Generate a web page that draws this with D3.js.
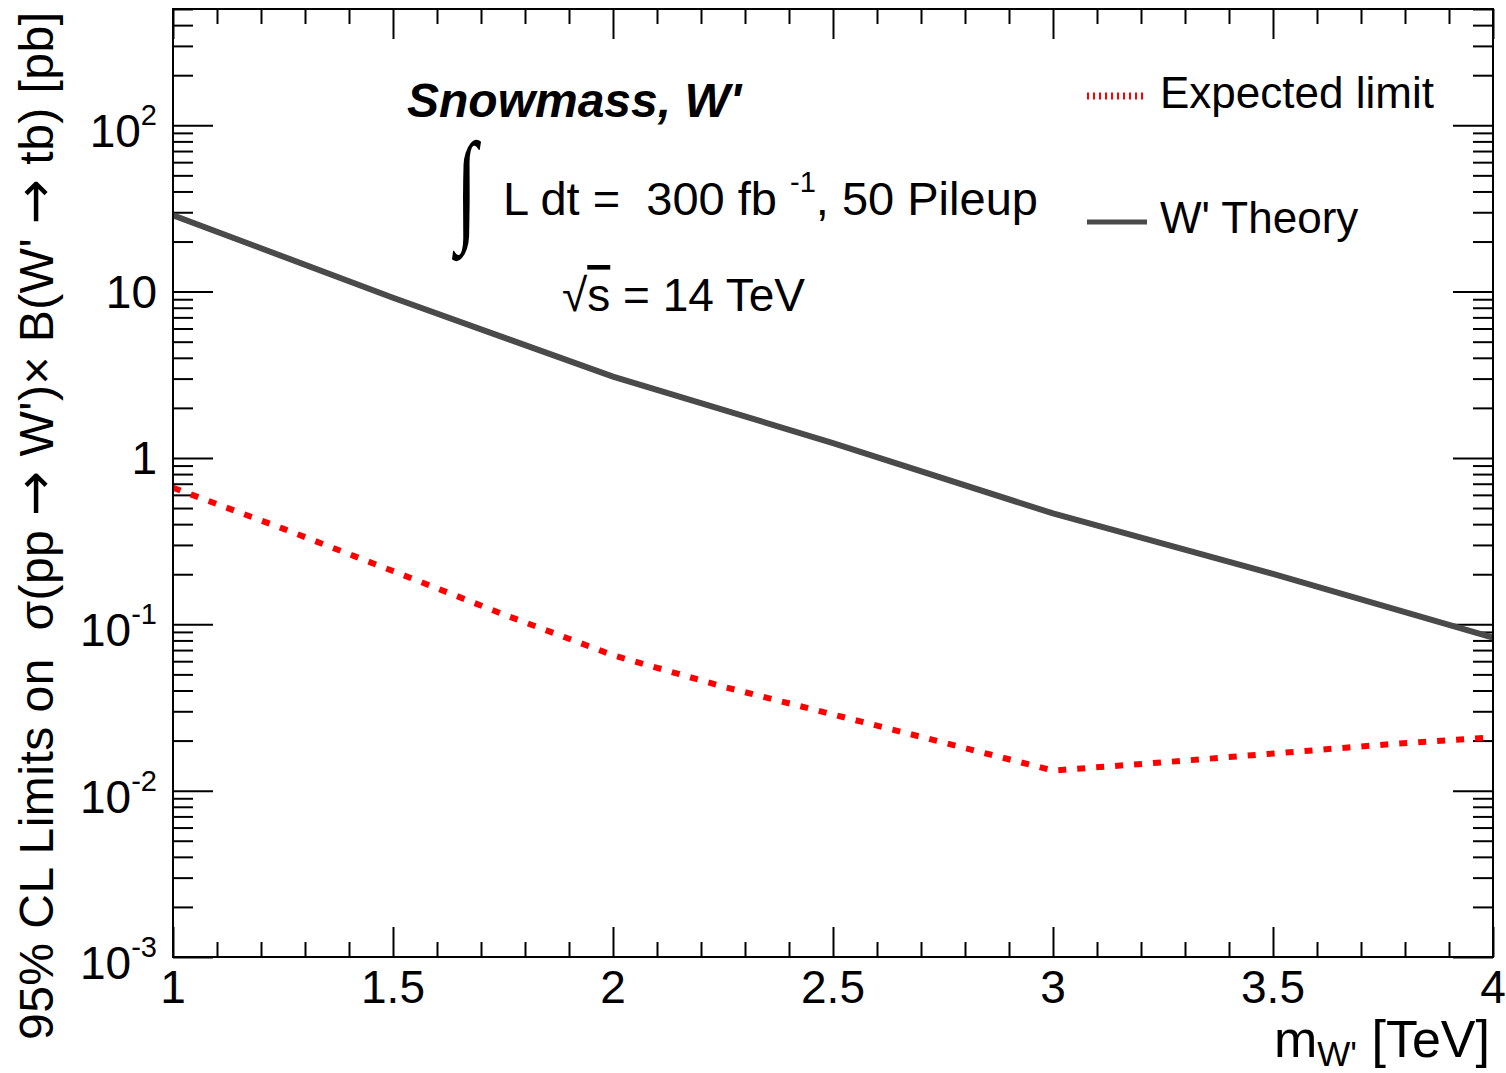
<!DOCTYPE html>
<html>
<head>
<meta charset="utf-8">
<script src="https://cdn.jsdelivr.net/npm/d3@7"></script>
<style>
  body { margin: 0; background: #fff; }
  text { font-family: "Liberation Sans", Arial, Helvetica, sans-serif; fill: #000; white-space: pre; }
</style>
</head>
<body>
<svg id="chart" width="1506" height="1073"></svg>
<script>
'use strict';

// W' mass points [TeV] and theory cross section x BR [pb]
var theoryMass = [1.0, 1.5, 2.0, 2.5, 3.0, 3.5, 4.0];
var theoryXsec = [28.8, 9.18, 3.08, 1.23, 0.464, 0.201, 0.0832];

// expected 95% CL limit [pb]
var expMass = [1.0, 1.25, 1.5, 1.75, 2.0, 2.25, 2.5, 2.75, 3.0, 3.25, 3.5, 3.75, 4.0];
var expLimit = [0.662, 0.376, 0.209, 0.115, 0.0652, 0.0422, 0.0287, 0.0195, 0.0132, 0.0148, 0.0167, 0.0189, 0.0209];

// axis ticks
var xMajor = [1, 1.5, 2, 2.5, 3, 3.5, 4];
var yMajor = [1e-3, 1e-2, 1e-1, 1, 10, 100];
var yLabels = [['10', '-3'], ['10', '-2'], ['10', '-1'], ['1', ''], ['10', ''], ['10', '2']];

var svg = d3.select('#chart');
var frameL = 173, frameR = 1493, frameT = 9, frameB = 957;

var x = d3.scaleLinear().domain([1, 4]).range([frameL, frameR]);
var y = d3.scaleLog().domain([1e-3, 500]).range([frameB, frameT]);

// minor ticks
var xMinor = d3.range(10, 41).map(function (d) { return d / 10; })
  .filter(function (d) { return xMajor.indexOf(d) < 0; });
var yMinor = [];
[-3, -2, -1, 0, 1, 2].forEach(function (e) {
  for (var k = 2; k <= 9; k++) {
    var v = k * Math.pow(10, e);
    if (v <= 500) yMinor.push(v);
  }
});

function styleAxis(g) {
  g.select('.domain').remove();
  g.selectAll('line').attr('stroke', '#000').attr('stroke-width', 2);
}

// ticks on all four sides, pointing inward
svg.append('g').attr('transform', 'translate(0,' + frameB + ')')
  .call(d3.axisBottom(x).tickValues(xMajor).tickSize(-30).tickFormat('')).call(styleAxis);
svg.append('g').attr('transform', 'translate(0,' + frameB + ')')
  .call(d3.axisBottom(x).tickValues(xMinor).tickSize(-15).tickFormat('')).call(styleAxis);
svg.append('g').attr('transform', 'translate(0,' + frameT + ')')
  .call(d3.axisTop(x).tickValues(xMajor).tickSize(-30).tickFormat('')).call(styleAxis);
svg.append('g').attr('transform', 'translate(0,' + frameT + ')')
  .call(d3.axisTop(x).tickValues(xMinor).tickSize(-15).tickFormat('')).call(styleAxis);
svg.append('g').attr('transform', 'translate(' + frameL + ',0)')
  .call(d3.axisLeft(y).tickValues(yMajor).tickSize(-40).tickFormat('')).call(styleAxis);
svg.append('g').attr('transform', 'translate(' + frameL + ',0)')
  .call(d3.axisLeft(y).tickValues(yMinor).tickSize(-20).tickFormat('')).call(styleAxis);
svg.append('g').attr('transform', 'translate(' + frameR + ',0)')
  .call(d3.axisRight(y).tickValues(yMajor).tickSize(-40).tickFormat('')).call(styleAxis);
svg.append('g').attr('transform', 'translate(' + frameR + ',0)')
  .call(d3.axisRight(y).tickValues(yMinor).tickSize(-20).tickFormat('')).call(styleAxis);

// x tick labels
svg.selectAll('.xlab').data(xMajor).enter().append('text')
  .attr('class', 'xlab')
  .attr('x', function (d) { return x(d); })
  .attr('y', 1003)
  .attr('text-anchor', 'middle')
  .style('font-size', '46px')
  .text(function (d) { return d; });

// y tick labels with exponents
yMajor.forEach(function (v, i) {
  var lab = yLabels[i];
  var t = svg.append('text')
    .attr('x', 157)
    .attr('y', y(v) + (lab[1] ? 22 : 16.5))
    .attr('text-anchor', 'end')
    .style('font-size', '46px');
  t.append('tspan').text(lab[0]);
  if (lab[1]) {
    t.append('tspan').attr('dy', -22).style('font-size', '29px').text(lab[1]);
  }
});

// curves
var clip = svg.append('clipPath').attr('id', 'frameclip');
clip.append('rect').attr('x', frameL).attr('y', frameT).attr('width', frameR - frameL).attr('height', frameB - frameT);

var line = d3.line()
  .x(function (d) { return x(d[0]); })
  .y(function (d) { return y(d[1]); });

svg.append('path')
  .datum(d3.zip(theoryMass, theoryXsec))
  .attr('d', line)
  .attr('clip-path', 'url(#frameclip)')
  .attr('fill', 'none')
  .attr('stroke', '#4a4a4a')
  .attr('stroke-width', 6);

svg.append('path')
  .datum(d3.zip(expMass, expLimit))
  .attr('d', line)
  .attr('fill', 'none')
  .attr('stroke', '#ff0000')
  .attr('stroke-width', 6)
  .attr('stroke-dasharray', '8,11');

// frame
svg.append('rect')
  .attr('x', frameL).attr('y', frameT)
  .attr('width', frameR - frameL).attr('height', frameB - frameT)
  .attr('fill', 'none').attr('stroke', '#000').attr('stroke-width', 2);

// axis titles (arrows taken from DejaVu, they are too small in Liberation)
var yt = svg.append('text')
  .attr('transform', 'translate(53,12) rotate(-90)')
  .attr('text-anchor', 'end')
  .attr('textLength', 1028)
  .attr('lengthAdjust', 'spacing')
  .style('font-size', '48px');
var ytParts = ["95% CL Limits on  \u03c3(pp ", '\u2192', " W')\u00d7 B(W' ", '\u2192', ' tb) [pb]'];
ytParts.forEach(function (s) {
  var ts = yt.append('tspan').text(s);
  if (s === '\u2192') ts.style('font-family', '"DejaVu Sans", sans-serif').style('font-size', '54px');
});

var xt = svg.append('text')
  .attr('x', 1490).attr('y', 1057)
  .attr('text-anchor', 'end')
  .style('font-size', '52px');
xt.append('tspan').text('m');
xt.append('tspan').attr('dy', 9).style('font-size', '35px').text("W'");
xt.append('tspan').attr('dy', -9).text(' [TeV]');

// labels inside the frame
svg.append('text')
  .attr('x', 407).attr('y', 117)
  .style('font-size', '48px').style('font-weight', 'bold').style('font-style', 'italic')
  .text("Snowmass, W'");

svg.append('text')
  .attr('transform', 'translate(456,228) scale(0.62,1)')
  .style('font-family', '"Liberation Serif", serif')
  .style('font-size', '124px')
  .text('\u222b');

var lumi = svg.append('text')
  .attr('x', 503).attr('y', 215)
  .style('font-size', '47px');
lumi.append('tspan').text('L dt =  300 fb ');
lumi.append('tspan').attr('dy', -23).style('font-size', '29px').text('-1');
lumi.append('tspan').attr('dy', 23).text(', 50 Pileup');

var sq = svg.append('text')
  .attr('x', 562).attr('y', 311)
  .style('font-size', '46px');
sq.append('tspan').text('\u221a');
sq.append('tspan').style('text-decoration', 'overline').text('s');
sq.append('tspan').text(' = 14 TeV');

// legend
svg.append('line')
  .attr('x1', 1087).attr('x2', 1145).attr('y1', 96).attr('y2', 96)
  .attr('stroke', '#ff0000').attr('stroke-width', 7).attr('stroke-dasharray', '2,4');
svg.append('text').attr('x', 1160).attr('y', 108).style('font-size', '44px').text('Expected limit');

svg.append('line')
  .attr('x1', 1087).attr('x2', 1147).attr('y1', 222).attr('y2', 222)
  .attr('stroke', '#4a4a4a').attr('stroke-width', 5);
svg.append('text').attr('x', 1160).attr('y', 233).style('font-size', '44px').text("W' Theory");
</script>
</body>
</html>
